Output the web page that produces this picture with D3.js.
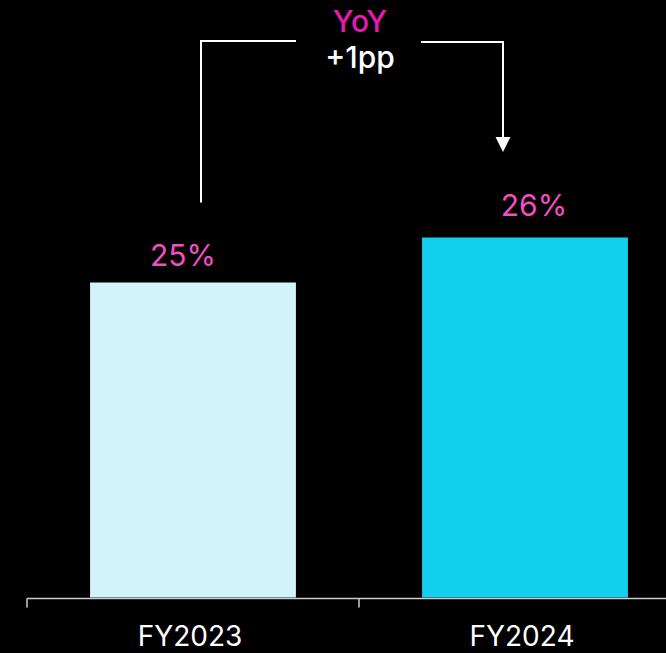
<!DOCTYPE html>
<html>
<head>
<meta charset="utf-8">
<script src="https://cdn.jsdelivr.net/npm/d3@7"></script>
<style>
  html, body { margin: 0; padding: 0; background: #000; }
  svg { display: block; }
  text { font-family: Inter, "Liberation Sans", Arial, sans-serif; }
</style>
</head>
<body>
<svg id="chart" width="666" height="653"></svg>
<script>
const categories = ["FY2023", "FY2024"];
const values = [25, 26];
const valueLabels = ["25%", "26%"];
const barColors = ["#d1f4f9", "#12cfee"];
const yoyTitle = "YoY";
const yoyValue = "+1pp";

const W = 666, H = 653;
const svg = d3.select("#chart");
svg.append("rect").attr("width", W).attr("height", H).attr("fill", "#000");

const x = d3.scaleBand().domain(categories).range([27, 691])
  .paddingInner(0.38).paddingOuter(0.19);
const y = d3.scaleLinear().domain([18, 31]).range([597.5, 12.5]);

// bars
svg.selectAll("rect.bar").data(categories).enter().append("rect")
  .attr("class", "bar")
  .attr("x", d => x(d))
  .attr("width", x.bandwidth())
  .attr("y", (d, i) => y(values[i]))
  .attr("height", (d, i) => y(18) - y(values[i]))
  .attr("fill", (d, i) => barColors[i]);

// value labels (slight manual nudges as in the original layout)
const labelNudge = [{ dx: -10, dy: -17 }, { dx: 9, dy: -22 }];
svg.selectAll("text.val").data(categories).enter().append("text")
  .attr("class", "val")
  .attr("x", (d, i) => x(d) + x.bandwidth() / 2 + labelNudge[i].dx)
  .attr("y", (d, i) => y(values[i]) + labelNudge[i].dy)
  .attr("text-anchor", "middle")
  .attr("font-size", 30)
  .attr("fill", "#ef4fc1")
  .text((d, i) => valueLabels[i]);

// x axis with ticks at band boundaries
const step = x.step();
const axisG = svg.append("g");
const x0 = x.range()[0];
axisG.append("line")
  .attr("x1", x0).attr("x2", x.range()[1])
  .attr("y1", y(18) + 1).attr("y2", y(18) + 1)
  .attr("stroke", "#cccccc").attr("stroke-width", 1.5);
d3.range(categories.length + 1).forEach(i => {
  axisG.append("line")
    .attr("x1", x0 + i * step).attr("x2", x0 + i * step)
    .attr("y1", y(18) + 1).attr("y2", y(18) + 10)
    .attr("stroke", "#cccccc").attr("stroke-width", 1.5);
});
svg.selectAll("text.cat").data(categories).enter().append("text")
  .attr("class", "cat")
  .attr("x", d => x(d) + x.bandwidth() / 2 - 3)
  .attr("y", 646)
  .attr("text-anchor", "middle")
  .attr("font-size", 28)
  .attr("fill", "#ffffff")
  .text(d => d);

// YoY annotation
const c0 = x(categories[0]) + x.bandwidth() / 2;
const c1 = x(categories[1]) + x.bandwidth() / 2;
const topY = 41;
const midX = (c0 + c1) / 2;
const lx = c0 + 8, rx = c1 - 22;
svg.append("path")
  .attr("d", `M${lx},${y(values[0]) - 80} V${topY} H${midX - 63}`)
  .attr("fill", "none").attr("stroke", "#ffffff").attr("stroke-width", 2);
svg.append("path")
  .attr("d", `M${midX + 62},${topY + 1} H${rx} V${138}`)
  .attr("fill", "none").attr("stroke", "#ffffff").attr("stroke-width", 2);
svg.append("path")
  .attr("d", `M${rx - 7.5},${137} L${rx + 7.5},${137} L${rx},${152} Z`)
  .attr("fill", "#ffffff");

svg.append("text")
  .attr("x", midX + 1).attr("y", 32)
  .attr("text-anchor", "middle")
  .attr("font-size", 30)
  .attr("font-weight", 500)
  .attr("fill", "#e61ab0")
  .text(yoyTitle);
svg.append("text")
  .attr("x", midX + 1).attr("y", 68)
  .attr("text-anchor", "middle")
  .attr("font-size", 30)
  .attr("font-weight", 500)
  .attr("fill", "#ffffff")
  .text(yoyValue);
</script>
</body>
</html>
